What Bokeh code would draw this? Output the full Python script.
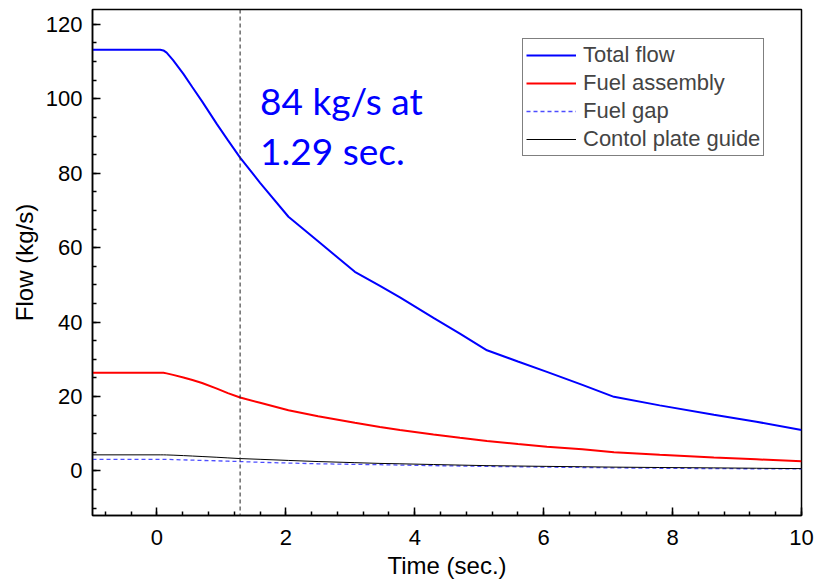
from bokeh.plotting import figure
from bokeh.models import SingleIntervalTicker, Span, Label, Legend, LegendItem, Range1d
from bokeh.embed import file_html
from bokeh.resources import INLINE

time = [-1, 0.05, 0.1, 0.15, 0.25, 0.41, 0.55, 0.7, 0.93, 1.1, 1.29, 1.6, 2.04, 2.5,
        3.07, 3.46, 3.77, 4.29, 4.7, 5.12, 5.6, 6.05, 6.6, 7.09, 7.8, 8.64, 9.3, 10]
total_flow = [113.2, 113.2, 113.0, 112.4, 110.4, 106.7, 103.1, 99.3, 93.2, 88.9, 84.2,
              77.4, 68.3, 61.7, 53.5, 49.7, 46.6, 41.1, 36.9, 32.4, 29.4, 26.6, 23.1,
              19.9, 17.6, 15.1, 13.2, 11.0]
fuel_assembly = [26.4, 26.4, 26.35, 26.2, 25.8, 25.1, 24.4, 23.6, 22.1, 20.9, 19.7,
                 18.3, 16.3, 14.7, 12.9, 11.8, 11.0, 9.8, 8.9, 8.0, 7.2, 6.5, 5.8, 5.0,
                 4.3, 3.6, 3.1, 2.6]
fuel_gap = [3.1, 3.1, 3.1, 3.08, 3.04, 2.95, 2.88, 2.8, 2.7, 2.6, 2.5, 2.3, 2.1, 1.9,
            1.75, 1.65, 1.55, 1.4, 1.3, 1.2, 1.1, 1.0, 0.9, 0.8, 0.7, 0.6, 0.55, 0.5]
control_plate_guide = [4.3, 4.3, 4.3, 4.28, 4.22, 4.1, 3.98, 3.85, 3.65, 3.48, 3.3,
                       3.1, 2.8, 2.5, 2.2, 2.0, 1.9, 1.7, 1.55, 1.4, 1.3, 1.2, 1.1,
                       1.0, 0.9, 0.8, 0.7, 0.6]
marker_time = 1.29
annotation_lines = ["84 kg/s at", "1.29 sec."]

FONT = "Liberation Sans"

p = figure(width=814, height=585, output_backend="svg", toolbar_location=None,
           x_range=Range1d(-1, 10), y_range=Range1d(-12, 124),
           min_border_left=92, min_border_right=13, min_border_top=9, min_border_bottom=70)
p.grid.visible = False
p.outline_line_color = "black"
p.outline_line_width = 1.5
p.background_fill_color = "white"
p.border_fill_color = "white"

p.xaxis.ticker = SingleIntervalTicker(interval=2, num_minor_ticks=5)
p.yaxis.ticker = SingleIntervalTicker(interval=20, num_minor_ticks=4)
for ax in (p.xaxis[0], p.yaxis[0]):
    ax.axis_line_width = 1.5
    ax.major_tick_in = 8
    ax.major_tick_out = 0
    ax.minor_tick_in = 4
    ax.minor_tick_out = 0
    ax.major_tick_line_width = 1.5
    ax.minor_tick_line_width = 1.5
    ax.major_label_text_font = FONT
    ax.major_label_text_font_size = "22px"
    ax.major_label_text_color = "black"
    ax.axis_label_text_font = FONT
    ax.axis_label_text_font_size = "24px"
    ax.axis_label_text_font_style = "normal"
    ax.axis_label_text_color = "black"
p.xaxis.axis_label = "Time (sec.)"
p.yaxis.axis_label = "Flow (kg/s)"
p.xaxis.major_label_standoff = 14
p.yaxis.major_label_standoff = 10
p.xaxis.axis_label_standoff = 4
p.yaxis.axis_label_standoff = 5

r1 = p.line(time, total_flow, line_color="#0000ff", line_width=2)
r2 = p.line(time, fuel_assembly, line_color="#ff0000", line_width=2)
r3 = p.line(time, fuel_gap, line_color="#4d4dff", line_width=1.3, line_dash="4 3")
r4 = p.line(time, control_plate_guide, line_color="black", line_width=1)

p.add_layout(Span(location=marker_time, dimension="height", line_color="#222222",
                  line_width=1, line_dash="4 3"))

p.add_layout(Label(x=1.6, y=99.6, text=annotation_lines[0], text_color="#0000ff",
                   text_font="Lato", text_font_size="37px", text_baseline="alphabetic"))
p.add_layout(Label(x=1.6, y=86.2, text=annotation_lines[1], text_color="#0000ff",
                   text_font="Lato", text_font_size="37px", text_baseline="alphabetic"))

legend = Legend(items=[
    LegendItem(label="Total flow", renderers=[r1]),
    LegendItem(label="Fuel assembly", renderers=[r2]),
    LegendItem(label="Fuel gap", renderers=[r3]),
    LegendItem(label="Contol plate guide", renderers=[r4]),
], location=(430, 359))
legend.label_text_font = FONT
legend.label_text_font_size = "22px"
legend.label_height = 22
legend.glyph_height = 22
legend.glyph_width = 50
legend.spacing = 2
legend.padding = 3
legend.margin = 0
legend.label_standoff = 7
legend.border_line_color = "black"
legend.border_line_width = 1
legend.background_fill_alpha = 1
p.add_layout(legend)

open("out.html", "w").write(file_html(p, INLINE))
